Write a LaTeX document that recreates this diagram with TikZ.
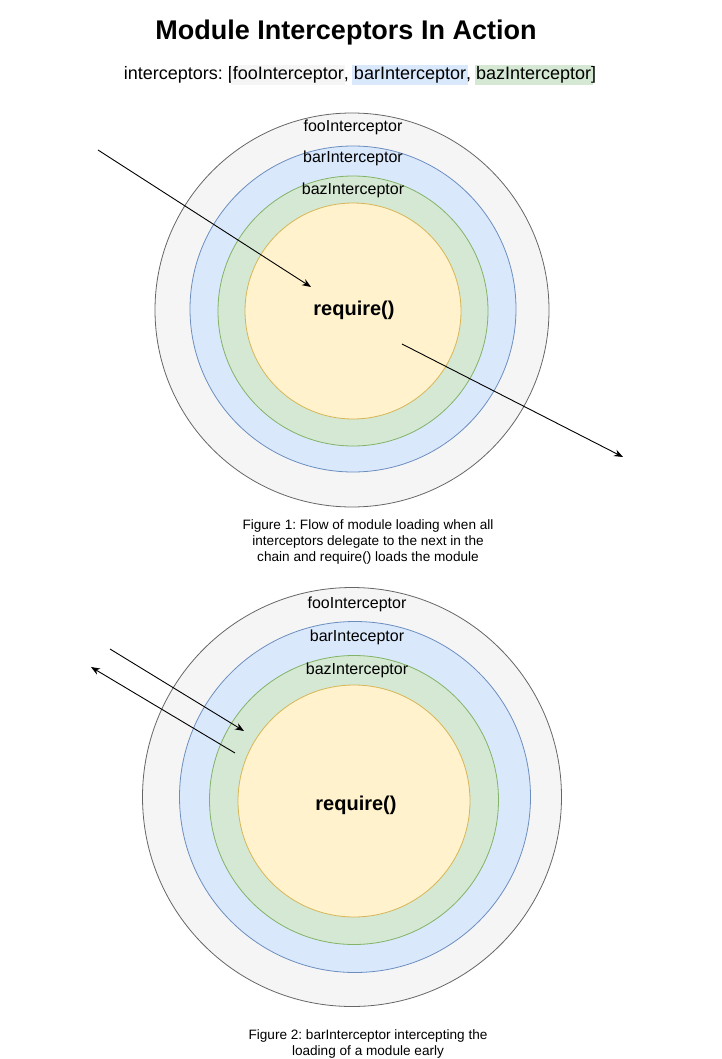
\documentclass[tikz,border=0pt]{standalone}
\usepackage{fontspec}
\setmainfont{Liberation Sans}
\usetikzlibrary{arrows.meta}
\definecolor{foofill}{HTML}{F5F5F5}
\definecolor{foodraw}{HTML}{666666}
\definecolor{barfill}{HTML}{DAE8FC}
\definecolor{bardraw}{HTML}{6C8EBF}
\definecolor{bazfill}{HTML}{D5E8D4}
\definecolor{bazdraw}{HTML}{82B366}
\definecolor{reqfill}{HTML}{FFF2CC}
\definecolor{reqdraw}{HTML}{D6B656}
\setlength{\fboxsep}{1.5pt}
\newcommand{\hilite}[2]{\kern-1.5pt\colorbox{#1}{#2}\kern-1.5pt}
\frenchspacing

\begin{document}
\begin{tikzpicture}[
				x=1pt, y=-1pt,
				ring/.style={circle, inner sep=0pt, line width=0.8pt},
				lbl/.style={font=\fontsize{16}{18}\selectfont, inner sep=0pt},
				req/.style={font=\fontsize{20}{22}\selectfont\bfseries, inner sep=0pt},
				caption/.style={font=\fontsize{13.6}{16}\selectfont, align=center, inner sep=0pt},
				flow/.style={line width=0.9pt, -{Stealth[length=9pt, width=7pt]}},
				>=Stealth
				]
				\useasboundingbox (0,0) rectangle (721,1059);
				
				% heading
				\node[font=\fontsize{27}{30}\selectfont\bfseries] (title) at (346,33) {Module Interceptors In Action};
				\node[font=\fontsize{18}{20}\selectfont] (legend) at (360,75)
					{interceptors: [\hilite{foofill}{fooInterceptor}, \hilite{barfill}{barInterceptor}, \hilite{bazfill}{bazInterceptor}]};
				
				% figure 1
				\node[ring, fill=foofill, draw=foodraw, minimum size=394pt] (foo1) at (352,310) {};
				\node[ring, fill=barfill, draw=bardraw, minimum size=326pt] (bar1) at (353,309) {};
				\node[ring, fill=bazfill, draw=bazdraw, minimum size=270pt] (baz1) at (353,311) {};
				\node[ring, fill=reqfill, draw=reqdraw, minimum size=216pt] (req1) at (353,311) {};
				\node[lbl] (foolbl1) at (353,127) {fooInterceptor};
				\node[lbl] (barlbl1) at (353,158) {barInterceptor};
				\node[lbl] (bazlbl1) at (353,190) {bazInterceptor};
				\node[req] (reqlbl1) at (354,310) {require()};
				
				\coordinate (in1) at (98,150);
				\coordinate (tip1) at (311,287);
				\coordinate (from1) at (402,344);
				\coordinate (out1) at (623,457);
				\draw[flow] (in1) -- (tip1);
				\draw[flow] (from1) -- (out1);
				
				\node[caption] (cap1) at (368,542)
					{Figure 1: Flow of module loading when all\\interceptors delegate to the next in the\\chain and require() loads the module};
				
				% figure 2
				\node[ring, fill=foofill, draw=foodraw, minimum size=419pt] (foo2) at (352,797) {};
				\node[ring, fill=barfill, draw=bardraw, minimum size=351pt] (bar2) at (355,797) {};
				\node[ring, fill=bazfill, draw=bazdraw, minimum size=289pt] (baz2) at (354,800) {};
				\node[ring, fill=reqfill, draw=reqdraw, minimum size=232pt] (req2) at (354,801) {};
				\node[lbl] (foolbl2) at (357,604) {fooInterceptor};
				\node[lbl] (barlbl2) at (357,637) {barInteceptor};
				\node[lbl] (bazlbl2) at (357,670) {bazInterceptor};
				\node[req] (reqlbl2) at (356,805) {require()};
				
				\coordinate (in2) at (110,649);
				\coordinate (tip2) at (244,731);
				\coordinate (from2) at (235,753);
				\coordinate (out2) at (91,667);
				\draw[flow] (in2) -- (tip2);
				\draw[flow] (from2) -- (out2);
				
				\node[caption] (cap2) at (368,1044)
					{Figure 2: barInterceptor intercepting the\\loading of a module early};
			\end{tikzpicture}
\end{document}
